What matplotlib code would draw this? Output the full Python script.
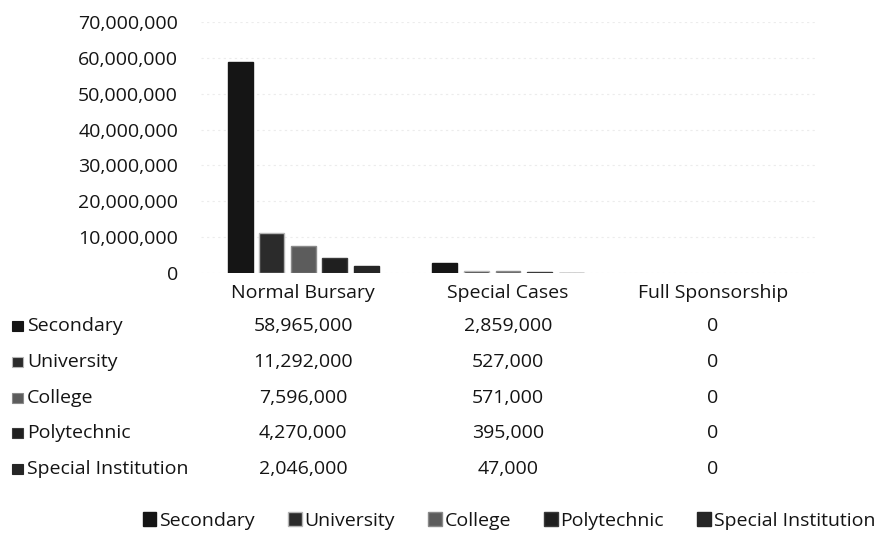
import numpy as np
import matplotlib
matplotlib.use("Agg")
import matplotlib.pyplot as plt
from matplotlib.patches import Rectangle, Patch
from matplotlib.ticker import FuncFormatter
from matplotlib.transforms import blended_transform_factory

plt.rcParams['font.family'] = ['Open Sans', 'DejaVu Sans']

# bursary amounts per institution type
categories = ['Normal Bursary', 'Special Cases', 'Full Sponsorship']
institutions = ['Secondary', 'University', 'College', 'Polytechnic', 'Special Institution']
secondary = [58965000, 2859000, 0]
university = [11292000, 527000, 0]
college = [7596000, 571000, 0]
polytechnic = [4270000, 395000, 0]
special_inst = [2046000, 47000, 0]
series = [secondary, university, college, polytechnic, special_inst]

colors = ['#151515', '#2b2b2b', '#5c5c5c', '#1f1f1f', '#262626']
edges = ['#151515', '#b5b5b5', '#8a8a8a', '#3a3a3a', '#262626']
txt = '#141414'
fs = 14

W, H = 876, 536
fig = plt.figure(figsize=(W / 100, H / 100), dpi=100)
ax = fig.add_axes([201 / W, (H - 273) / H, 614 / W, 251 / H])

x = np.arange(len(categories))
bw = 0.122
pitch = 0.154
for i, vals in enumerate(series):
    lws = [1.0 if v > 0 else 0 for v in vals]
    ax.bar(x + (i - 2) * pitch, vals, width=bw, color=colors[i],
           edgecolor=edges[i], linewidth=lws)

ax.set_xlim(-0.5, 2.5)
ax.set_ylim(0, 70000000)
ax.set_yticks(np.arange(0, 70000001, 10000000))
ax.yaxis.set_major_formatter(FuncFormatter(lambda v, p: f'{int(v):,}'))
ax.tick_params(axis='y', length=0, pad=16.5, labelsize=fs, labelcolor=txt)
ax.set_xticks([])
ax.grid(axis='y', color='#ececec', linewidth=0.8, linestyle=(0, (2, 3)))
ax.set_axisbelow(True)
for s in ax.spines.values():
    s.set_visible(False)

# data table under the plot
tr = blended_transform_factory(ax.transData, fig.transFigure)
fy = lambda py: 1 - py / H
for j, c in enumerate(categories):
    ax.text(x[j], fy(293), c, transform=tr, ha='center', va='center',
            fontsize=fs, color=txt, clip_on=False)

row_y = [326, 362, 398, 433, 469]
for i, name in enumerate(institutions):
    yy = row_y[i]
    fig.patches.append(Rectangle((12 / W, fy(yy + 5)), 11 / W, 10 / H,
                                 transform=fig.transFigure,
                                 facecolor=colors[i], edgecolor=edges[i], lw=0.8))
    fig.text(27 / W, fy(yy), name, ha='left', va='center', fontsize=fs, color=txt)
    for j, v in enumerate(series[i]):
        ax.text(x[j], fy(yy), f'{v:,}', transform=tr, ha='center', va='center',
                fontsize=fs, color=txt, clip_on=False)

handles = [Patch(facecolor=colors[i], edgecolor=edges[i], label=institutions[i])
           for i in range(len(institutions))]
fig.legend(handles=handles, loc='center', bbox_to_anchor=(509 / W, fy(521)),
           ncol=5, frameon=False, fontsize=fs, handlelength=0.7, handleheight=0.7,
           handletextpad=0.15, columnspacing=1.7, labelcolor=txt)

fig.savefig('out.png', dpi=100, facecolor='white')
